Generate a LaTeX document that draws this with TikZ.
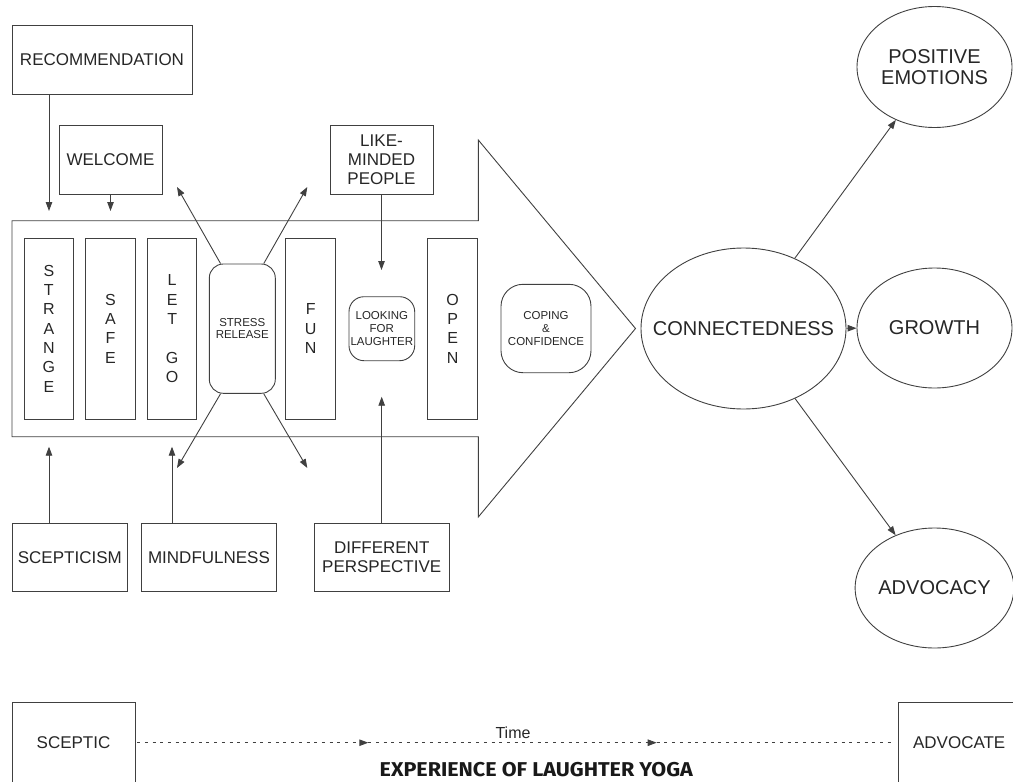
\documentclass[tikz,border=0pt]{standalone}
\usepackage{fontspec}
\setmainfont{Liberation Sans}
\newfontfamily\titlefont{Fira Sans}
\usetikzlibrary{arrows.meta,shapes.geometric}
\begin{document}
\begin{tikzpicture}[x=1pt,y=-1pt,
  ln/.style={draw=black!75, line width=0.9pt},
  box/.style={ln, rectangle, inner sep=0pt, text=black!85, align=center, font=\fontsize{17}{19}\selectfont},
  vbox/.style={box, minimum width=49.5pt, minimum height=180.7pt, font=\fontsize{16}{19.3}\selectfont},
  rbox/.style={box, rounded corners=14pt, font=\fontsize{11.5}{12.7}\selectfont},
  oval/.style={ln, ellipse, inner sep=0pt, text=black!85, align=center, font=\fontsize{20}{20.5}\selectfont},
  arr/.style={ln, -{Triangle[length=9pt,width=6.5pt]}},
  dotline/.style={dash pattern=on 3pt off 4.7pt}
]
\useasboundingbox (0,0) rectangle (1013,782);
\clip (0,0) rectangle (1013,782);

% big arrow
\draw[ln, line join=miter] (12,220.7) -- (478.3,220.7) -- (478.3,140) -- (635.5,328.5)
  -- (478.3,517) -- (478.3,436.7) -- (12,436.7) -- cycle;

% top and bottom boxes
\node[box, minimum width=180pt, minimum height=68.3pt] (rec) at (102,59.85) {RECOMMENDATION};
\node[box, minimum width=103pt, minimum height=68.3pt] (wel) at (110.5,159.85) {WELCOME};
\node[box, minimum width=103pt, minimum height=68.3pt] (like) at (381.5,159.85) {LIKE-\\MINDED\\PEOPLE};
\node[box, minimum width=115pt, minimum height=68.4pt] (scep) at (69.8,557.5) {SCEPTICISM};
\node[box, minimum width=135.4pt, minimum height=68.4pt] (mind) at (209,557.5) {MINDFULNESS};
\node[box, minimum width=135.3pt, minimum height=68.4pt] (diff) at (381.7,557.5) {DIFFERENT\\PERSPECTIVE};

% inside the arrow
\node[vbox] (strange) at (48.85,328.65) {S\\T\\R\\A\\N\\G\\E};
\node[vbox] (safe) at (110.5,328.65) {S\\A\\F\\E};
\node[vbox] (letgo) at (172.15,328.65) {L\\E\\T\\\mbox{}\\G\\O};
\node[rbox, minimum width=66pt, minimum height=129.3pt] (sr) at (242.3,328.65) {STRESS\\RELEASE};
\node[vbox] (fun) at (310.65,328.65) {F\\U\\N};
\node[rbox, minimum width=65.7pt, minimum height=64pt, rounded corners=15pt] (look) at (381.85,328.7) {LOOKING\\FOR\\LAUGHTER};
\node[vbox] (open) at (452.65,328.65) {O\\P\\E\\N};
\node[rbox, minimum width=90pt, minimum height=88.4pt, rounded corners=22pt] (cope) at (546,328.5) {COPING\\\&\\CONFIDENCE};

% ellipses
\node[oval, minimum width=205pt, minimum height=161pt] (conn) at (743.5,328.5) {\makebox[0pt]{CONNECTEDNESS}};
\node[oval, minimum width=155pt, minimum height=120pt] (grow) at (934.5,328) {GROWTH};
\node[oval, minimum width=155pt, minimum height=121pt] (pos) at (934.5,67) {POSITIVE\\EMOTIONS};
\node[oval, minimum width=155pt, minimum height=120pt] (adv) at (934.5,588) {ADVOCACY};

% vertical arrows
\coordinate (recT) at (49,211);
\coordinate (welT) at (110.5,211);
\coordinate (likeT) at (381.5,270);
\coordinate (diffT) at (381.7,396.7);
\coordinate (scepT) at (49,446.7);
\coordinate (mindT) at (172,446.7);
\draw[arr] (rec.south -| recT) -- (recT);
\draw[arr] (wel.south) -- (welT);
\draw[arr] (like.south) -- (likeT);
\draw[arr] (diff.north) -- (diffT);
\draw[arr] (scep.north -| scepT) -- (scepT);
\draw[arr] (mind.north -| mindT) -- (mindT);

% stress release arrows
\coordinate (srA) at (177,187);
\coordinate (srB) at (307.3,187);
\coordinate (srC) at (177,468);
\coordinate (srD) at (307.3,468);
\draw[arr] ([xshift=11.7pt]sr.north west) -- (srA);
\draw[arr] ([xshift=-12pt]sr.north east) -- (srB);
\draw[arr] ([xshift=11.7pt]sr.south west) -- (srC);
\draw[arr] ([xshift=-12pt]sr.south east) -- (srD);

% outcome arrows
\draw[arr] (conn) -- (pos);
\draw[arr] (conn) -- (grow);
\draw[arr] (conn) -- (adv);

% timeline
\node[box, minimum width=123pt, minimum height=81pt] (sceptic) at (73.5,742.7) {SCEPTIC};
\node[box, minimum width=121.7pt, minimum height=81pt] (advocate) at (959.2,742.7) {ADVOCATE};
\coordinate (t1) at (368.3,742.7);
\coordinate (t2) at (656.7,742.7);
\draw[arr, dotline, shorten <=1.7pt] (sceptic.east) -- (t1);
\draw[arr, dotline] (t1) -- (t2);
\draw[ln, dotline, shorten >=3pt] (t2) -- (advocate.west);
\node[text=black!85, font=\fontsize{16}{18}\selectfont] (time) at (513,732.7) {Time};
\node[text=black!90, font=\titlefont\bfseries\fontsize{20}{22}\selectfont] (title) at (536.3,769.3) {\scalebox{1.077}[1]{EXPERIENCE OF LAUGHTER YOGA}};
\end{tikzpicture}
\end{document}
